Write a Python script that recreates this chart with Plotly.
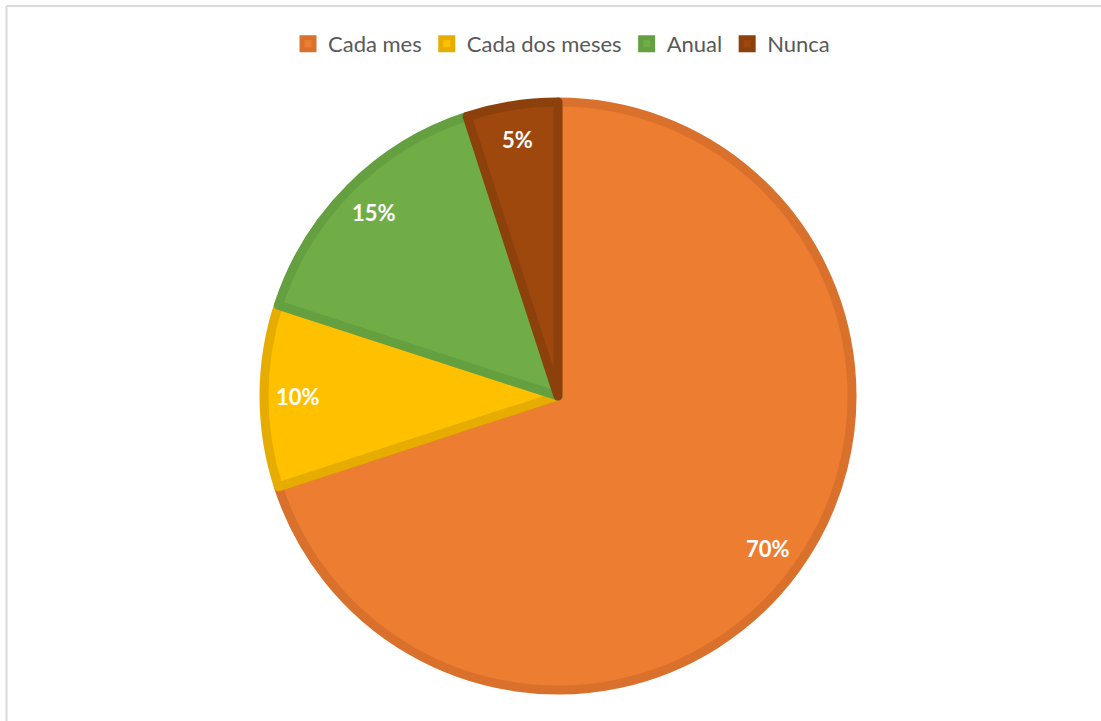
import math
import plotly.graph_objects as go

# Survey answers and their shares (%)
categories = ["Cada mes", "Cada dos meses", "Anual", "Nunca"]
values = [70, 10, 15, 5]
fill_colors = ["#ED7D31", "#FFC000", "#70AD47", "#9E480E"]
edge_colors = ["#D9712C", "#E6AD00", "#65A040", "#8C400C"]

W, H = 1101, 721
cx, cy = 558, 325          # pie centre in px (cy measured from bottom)
radius = 294               # pie radius in px
label_r = 260              # distance of value labels from centre

fig = go.Figure()
fig.add_trace(go.Pie(
    labels=categories,
    values=values,
    sort=False,
    direction="clockwise",
    rotation=0,
    textinfo="none",
    hoverinfo="label+percent",
    marker=dict(colors=fill_colors, line=dict(color=edge_colors, width=9)),
    domain=dict(x=[(cx - radius) / W, (cx + radius) / W],
                y=[(cy - radius) / H, (cy + radius) / H]),
))

# Value labels placed on each slice's bisector
total = sum(values)
start = 0.0
annotations = []
for v in values:
    mid = (start + v / 2) / total * 2 * math.pi
    start += v
    px = cx + label_r * math.sin(mid)
    py = cy + label_r * math.cos(mid)
    annotations.append(dict(
        x=px / W, y=py / H, xref="paper", yref="paper",
        xanchor="center", yanchor="middle",
        text=f"<b>{v}%</b>", showarrow=False,
        font=dict(family="Lato", size=22, color="white"),
    ))

fig.update_layout(
    width=W, height=H,
    margin=dict(l=0, r=0, t=0, b=0),
    paper_bgcolor="white",
    plot_bgcolor="white",
    annotations=annotations,
    showlegend=True,
    legend=dict(
        orientation="h", x=0.51, xanchor="center", y=1 - 44 / H, yanchor="middle",
        font=dict(family="Lato", size=22, color="#595959"),
        itemwidth=30, tracegroupgap=0,
    ),
    shapes=[
        dict(type="line", xref="paper", yref="paper", x0=6.5 / W, x1=1, y0=1 - 6 / H, y1=1 - 6 / H,
             line=dict(color="#D9D9D9", width=2)),
        dict(type="line", xref="paper", yref="paper", x0=6.5 / W, x1=6.5 / W, y0=0, y1=1 - 6 / H,
             line=dict(color="#D9D9D9", width=2)),
    ],
)

fig.write_html("out.html")
